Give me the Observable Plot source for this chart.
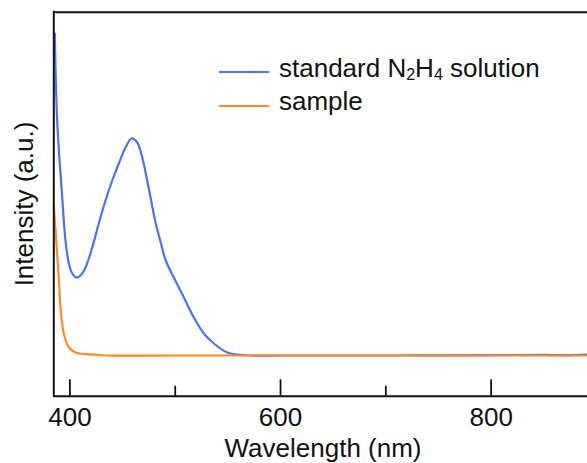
<!DOCTYPE html>
<html>
<head>
<meta charset="utf-8">
<script src="https://cdn.jsdelivr.net/npm/d3@7"></script>
<script src="https://cdn.jsdelivr.net/npm/@observablehq/plot@0.6"></script>
<style>
  html, body { margin: 0; padding: 0; background: #fff; }
  #wrap { position: relative; width: 587px; height: 463px; overflow: hidden; font-family: "Liberation Sans", Arial, sans-serif; color: #111; }
  .lbl { position: absolute; font-size: 26px; line-height: 26px; white-space: nowrap; }
  .sw { position: absolute; height: 0; border-top: 2.4px solid; }
  sub { font-size: 16px; vertical-align: -3px; line-height: 0; }
</style>
</head>
<body>
<div id="wrap"></div>
<script>
// ---- data ----
const standardWavelength = [385.7, 387.9, 392.7, 395.8, 399.0, 402.2, 406.0, 410.1, 414.8, 421.2, 427.4, 433.8, 440.2, 446.4, 452.8, 458.5, 463.9, 468.7, 474.9, 481.3, 486.0, 491.0, 498.7, 508.2, 517.7, 527.2, 536.7, 549.4, 558.9, 571.5, 600, 650, 700, 750, 800, 850, 870, 891.5];
const standardIntensity  = [3.22, 2.35, 1.58, 1.15, 0.92, 0.82, 0.78, 0.80, 0.88, 1.08, 1.32, 1.55, 1.75, 1.92, 2.08, 2.17, 2.13, 1.98, 1.67, 1.33, 1.14, 0.95, 0.78, 0.58, 0.38, 0.22, 0.12, 0.03, 0.01, 0.0, 0.0, 0.0, 0.0, 0.002, 0.004, 0.006, 0.003, 0.008];
const sampleWavelength = [384.7, 386.3, 387.9, 389.5, 391.1, 394.2, 399.0, 405.3, 417.7, 425.0, 433.8, 500, 600, 700, 800, 891.5];
const sampleIntensity  = [1.50, 1.25, 1.02, 0.76, 0.48, 0.22, 0.08, 0.03, 0.012, 0.008, 0.0, 0.0, 0.0, 0.0, 0.0, 0.0];
const seriesNames = ["standard N\u2082H\u2084 solution", "sample"];
const seriesColors = ["#4a72f6", "#ff8a1e"];
const majorTicks = [400, 600, 800];
const minorTicks = [500, 700];
const xLabel = "Wavelength (nm)";
const yLabel = "Intensity (a.u.)";

const xDomain = [384.7, 891.5];
const yDomain = [-0.407, 3.433];

const standard = standardWavelength.map((w, i) => ({w, v: standardIntensity[i]}));
const sample = sampleWavelength.map((w, i) => ({w, v: sampleIntensity[i]}));

const W = 587, H = 463, mT = 11.7, mB = 67.3, mL = 53.3, mR = 0;
const innerH = H - mT - mB;

const chart = Plot.plot({
  width: W, height: H,
  marginTop: mT, marginBottom: mB, marginLeft: mL, marginRight: mR,
  style: {fontFamily: "Liberation Sans, Arial, sans-serif", fontSize: "26px", background: "#fff", color: "#111"},
  x: {domain: xDomain, ticks: majorTicks, tickSize: 0, tickPadding: 11, label: null},
  y: {domain: yDomain, axis: null},
  marks: [
    Plot.line(standard, {x: "w", y: "v", stroke: seriesColors[0], strokeWidth: 2.2, curve: "catmull-rom"}),
    Plot.line(sample, {x: "w", y: "v", stroke: seriesColors[1], strokeWidth: 2.2, curve: "catmull-rom"}),
    Plot.ruleX(majorTicks, {stroke: "#111", strokeWidth: 1.8, insetTop: innerH - 16.4}),
    Plot.ruleX(minorTicks, {stroke: "#111", strokeWidth: 1.8, insetTop: innerH - 10}),
    Plot.ruleY([yDomain[0]], {stroke: "#111", strokeWidth: 2}),
    Plot.ruleY([yDomain[1]], {stroke: "#111", strokeWidth: 2}),
    Plot.ruleX([xDomain[0]], {stroke: "#111", strokeWidth: 2, insetTop: -1, insetBottom: -1})
  ]
});

const wrap = document.getElementById("wrap");
wrap.appendChild(chart);

function addLabel(html, css) {
  const d = document.createElement("div");
  d.className = "lbl";
  d.innerHTML = html;
  Object.assign(d.style, css);
  wrap.appendChild(d);
  return d;
}
// axis titles
addLabel(xLabel, {left: "323px", top: "435px", transform: "translateX(-50%)"});
addLabel(yLabel, {left: "23.5px", top: "203.7px", transform: "translate(-50%,-50%) rotate(-90deg)"});

// legend
const legendHTML = ["standard N<sub>2</sub>H<sub>4</sub> solution", "sample"];
const legendTops = [55, 87.5];
const legendLineY = [71.3, 105];
seriesNames.forEach((name, i) => {
  const sw = document.createElement("div");
  sw.className = "sw";
  Object.assign(sw.style, {left: "219px", width: "50px", top: legendLineY[i] + "px", borderColor: seriesColors[i]});
  wrap.appendChild(sw);
  const t = addLabel(legendHTML[i], {left: "279px", top: legendTops[i] + "px"});
  t.setAttribute("aria-label", name);
});
</script>
</body>
</html>
